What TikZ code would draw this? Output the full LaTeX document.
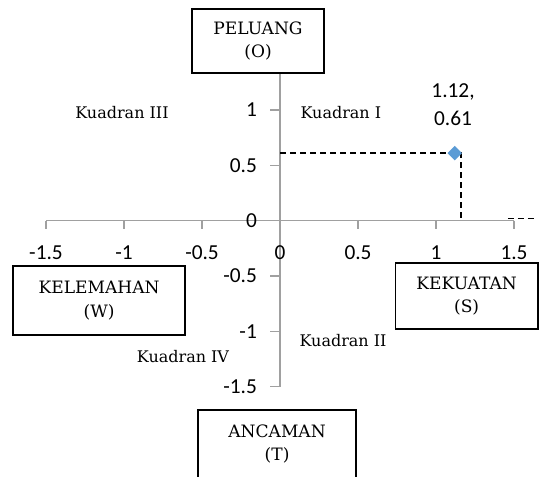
\documentclass[tikz,border=0pt]{standalone}
\usepackage{fontspec}
\usepackage{tikz}
\usetikzlibrary{shapes.geometric}
\newfontfamily\axisfont{Carlito}
\newfontfamily\boxfont{DejaVu Serif}
\definecolor{axisgray}{RGB}{160,160,160}
\definecolor{pointblue}{RGB}{91,155,213}

\begin{document}
\begin{tikzpicture}[x=117pt,y=83pt,
    quadbox/.style={draw,line width=1.1pt,align=center,inner sep=0pt,font=\boxfont\fontsize{12.8}{17.5}\selectfont},
    quadlabel/.style={inner sep=0pt,font=\boxfont\fontsize{12}{16}\selectfont},
    ticklabel/.style={inner sep=0pt,font=\axisfont\fontsize{16}{21}\selectfont},
    axisline/.style={axisgray,line width=1.2pt},
    dashline/.style={black,line width=1.2pt,dash pattern=on 4.5pt off 3pt}]
        % fix the size of the picture
        \useasboundingbox (-1.795,-2.315) rectangle (1.660,1.994);
        % draw the four boxes
        \node[quadbox,minimum width=99pt,minimum height=48pt] (peluang) at (-0.141,1.623) {PELUANG\\(O)};
        \node[quadbox,minimum width=129pt,minimum height=51.75pt] (kelemahan) at (-1.160,-0.721) {KELEMAHAN\\(W)};
        \node[quadbox,minimum width=107pt,minimum height=49.5pt] (kekuatan) at (1.196,-0.680) {KEKUATAN\\(S)};
        \node[quadbox,minimum width=118.5pt,minimum height=51pt] (ancaman) at (-0.019,-2.017) {ANCAMAN\\(T)};
        % draw the axes
        \coordinate (origin) at (0,0);
        \coordinate (xleft) at (-1.5,0);
        \coordinate (xright) at (1.5,0);
        \coordinate (ybottom) at (0,-1.5);
        \draw[axisline] (xleft) -- (xright);
        \draw[axisline] (ybottom) -- (origin |- peluang.south);
        % ticks and numbers
        \foreach \x [count=\i] in {-1.5,-1,-0.5,0,0.5,1,1.5} {
            \draw[axisline] (\x,0) -- (\x,-0.072);
            \node[ticklabel] (xtick\i) at (\x,-0.292) {\x};
        }
        \foreach \y [count=\i] in {-1.5,-1,-0.5,0,0.5,1} {
            \draw[axisline] (0,\y) -- (-0.064,\y);
            \node[ticklabel,anchor=east] (ytick\i) at (-0.147,\y) {\y};
        }
        % the quadrant names
        \node[quadlabel] (kuadI) at (0.39,0.973) {Kuadran I};
        \node[quadlabel] (kuadII) at (0.404,-1.087) {Kuadran II};
        \node[quadlabel] (kuadIII) at (-1.013,0.973) {Kuadran III};
        \node[quadlabel] (kuadIV) at (-0.622,-1.231) {Kuadran IV};
        % dashed guide lines to the point
        \coordinate (yval) at (0,0.61);
        \coordinate (xval) at (1.16,0);
        \draw[dashline] (yval) -- (yval -| xval) -- (xval);
        \coordinate (tailA) at (1.46,0.02);
        \coordinate (tailB) at (1.64,0.02);
        \draw[dashline] (tailA) -- (tailB);
        % the point and its value
        \node[diamond,fill=pointblue,minimum size=11pt,inner sep=0pt] (pt) at (1.12,0.61) {};
        \node[ticklabel,align=center,anchor=north] (ptlabel) at (1.109,1.241) {1.12,\\0.61};
    \end{tikzpicture}
\end{document}
